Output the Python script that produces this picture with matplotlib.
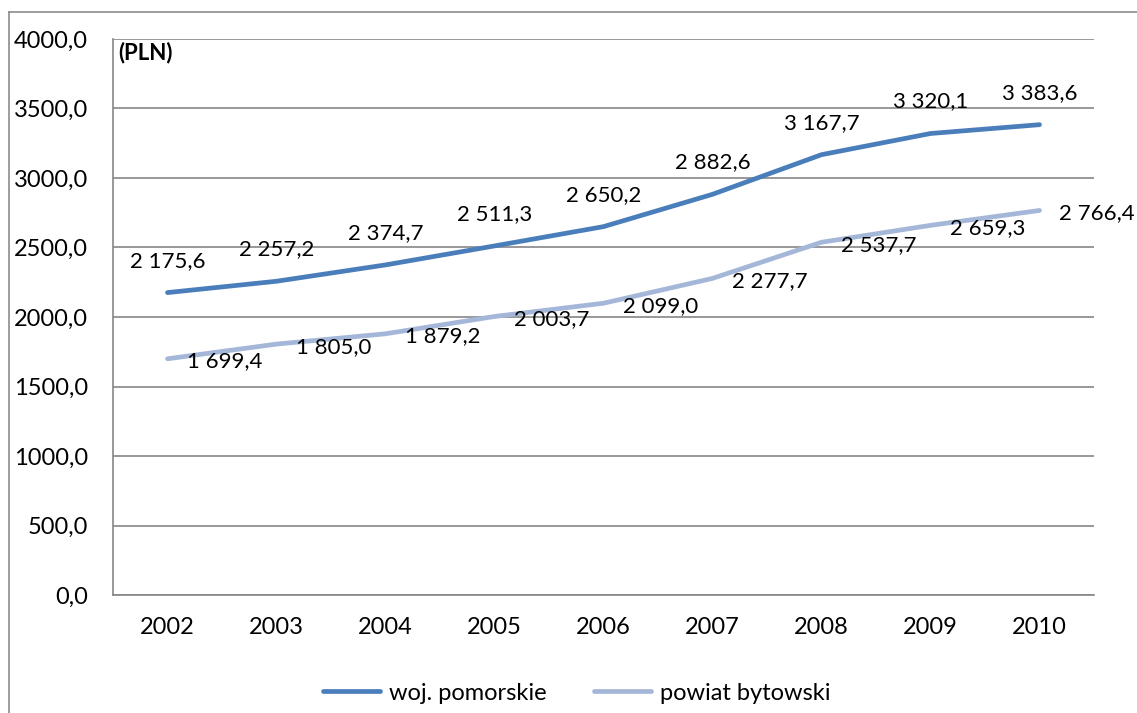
import matplotlib
matplotlib.use("Agg")
import matplotlib.pyplot as plt
from matplotlib.lines import Line2D

years = ["2002", "2003", "2004", "2005", "2006", "2007", "2008", "2009", "2010"]
pomorskie = [2175.6, 2257.2, 2374.7, 2511.3, 2650.2, 2882.6, 3167.7, 3320.1, 3383.6]
bytowski = [1699.4, 1805.0, 1879.2, 2003.7, 2099.0, 2277.7, 2537.7, 2659.3, 2766.4]
yticks = [0, 500, 1000, 1500, 2000, 2500, 3000, 3500, 4000]

plt.rcParams['font.family'] = ['Lato', 'DejaVu Sans']
fs = 17
lab_fs = 16

def pl(v):
    # polish style: space for thousands, comma for decimals
    return f"{v:,.1f}".replace(",", " ").replace(".", ",")

W, H = 1137, 713
fig = plt.figure(figsize=(W / 100, H / 100), dpi=100)
ax = fig.add_axes([113 / W, 1 - 595 / H, (1094 - 113) / W, (595 - 39) / H])

grid_c = "#868686"
x = list(range(len(years)))
ax.plot(x, pomorskie, color="#4a7ebb", lw=3.4, solid_capstyle="round", label="woj. pomorskie", zorder=3)
ax.plot(x, bytowski, color="#a5b7d8", lw=3.4, solid_capstyle="round", label="powiat bytowski", zorder=3)

for i, v in enumerate(pomorskie):
    ax.annotate(pl(v), (i, v), xytext=(0, 23), textcoords="offset points",
                ha="center", va="center", fontsize=lab_fs)
for i, v in enumerate(bytowski):
    ax.annotate(pl(v), (i, v), xytext=(14, -2), textcoords="offset points",
                ha="left", va="center", fontsize=lab_fs)

ax.set_xlim(-0.5, len(years) - 0.5)
ax.set_ylim(0, 4000)
ax.set_xticks(x)
ax.set_xticklabels(years)
ax.set_yticks(yticks)
ax.set_yticklabels([f"{v:.1f}".replace(".", ",") for v in yticks])
ax.tick_params(axis="both", length=0, labelsize=fs)
ax.tick_params(axis="y", pad=18)
ax.tick_params(axis="x", pad=16)
ax.grid(axis="y", color=grid_c, lw=1.2)
ax.set_axisbelow(True)
for s in ["top", "right"]:
    ax.spines[s].set_visible(False)
for s in ["left", "bottom"]:
    ax.spines[s].set_color(grid_c)
    ax.spines[s].set_linewidth(1.2)

ax.text(0.005, 0.975, "(PLN)", transform=ax.transAxes, fontsize=16, fontweight="bold",
        ha="left", va="center")

fig.legend(loc="center", bbox_to_anchor=(577 / W, 1 - 693 / H), ncol=2, frameon=False,
           fontsize=fs, handlelength=2.4, handletextpad=0.4, columnspacing=2.0)

# outer chart frame (cut off at right and bottom)
fig.add_artist(Line2D([9 / W, 1], [1 - 12 / H, 1 - 12 / H], transform=fig.transFigure, color="#8c8c8c", lw=1.2))
fig.add_artist(Line2D([9 / W, 9 / W], [0, 1 - 12 / H], transform=fig.transFigure, color="#8c8c8c", lw=1.2))

fig.savefig("out.png", dpi=100)
